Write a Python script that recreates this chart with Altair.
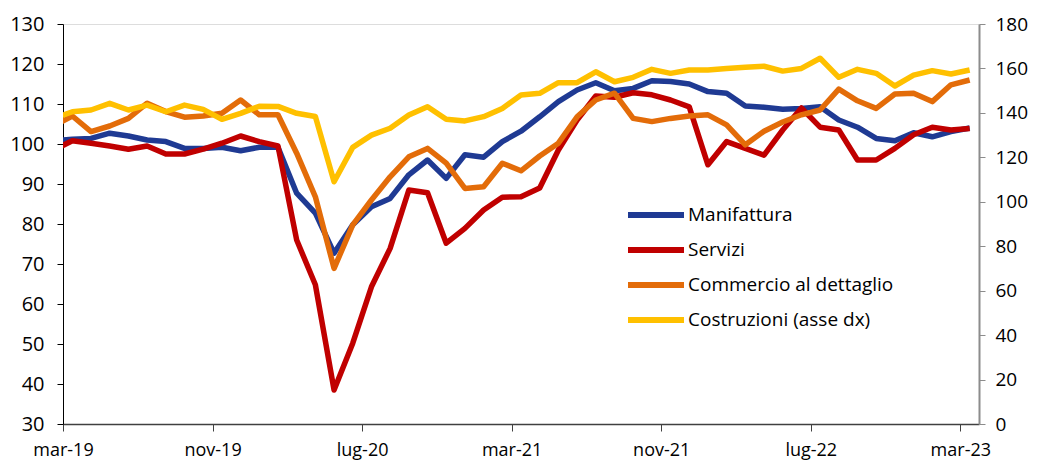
import json
import altair as alt
import numpy as np
import pandas as pd

# Mesi (il primo, feb-19, cade fuori dall'asse ed è tagliato come nell'originale)
mesi = ["feb-19", "mar-19", "apr-19", "mag-19", "giu-19", "lug-19", "ago-19", "set-19", "ott-19", "nov-19",
        "dic-19", "gen-20", "feb-20", "mar-20", "apr-20", "mag-20", "giu-20", "lug-20", "ago-20", "set-20",
        "ott-20", "nov-20", "dic-20", "gen-21", "feb-21", "mar-21", "apr-21", "mag-21", "giu-21", "lug-21",
        "ago-21", "set-21", "ott-21", "nov-21", "dic-21", "gen-22", "feb-22", "mar-22", "apr-22", "mag-22",
        "giu-22", "lug-22", "ago-22", "set-22", "ott-22", "nov-22", "dic-22", "gen-23", "feb-23", "mar-23"]

etichette_x = ["mar-19", "nov-19", "lug-20", "mar-21", "nov-21", "lug-22", "mar-23"]

manifattura = [100.8, 101.2, 101.4, 102.7, 102.0, 101.0, 100.6, 98.9, 98.9, 99.2,
               98.3, 99.2, 99.2, 87.7, 82.7, 72.7, 79.8, 84.3, 86.4, 92.3,
               96.0, 91.4, 97.3, 96.7, 100.6, 103.2, 106.8, 110.6, 113.5, 115.3,
               113.3, 113.9, 115.8, 115.6, 115.0, 113.1, 112.7, 109.5, 109.2, 108.7,
               108.9, 109.3, 106.0, 104.2, 101.4, 100.8, 102.8, 101.8, 103.1, 104.0]

servizi = [98.5, 100.8, 100.2, 99.5, 98.7, 99.5, 97.5, 97.5, 98.7, 100.2,
           102.0, 100.6, 99.5, 76.0, 64.8, 38.5, 50.2, 64.3, 73.9, 88.5,
           87.8, 75.2, 78.9, 83.5, 86.7, 86.8, 89.0, 98.5, 106.0, 112.0,
           111.7, 112.8, 112.3, 111.0, 109.3, 94.8, 100.6, 98.9, 97.2, 103.5,
           109.0, 104.2, 103.5, 96.0, 96.0, 98.9, 102.3, 104.2, 103.5, 103.9]

commercio = [104.5, 107.0, 103.1, 104.5, 106.4, 110.2, 108.1, 106.7, 107.0, 107.7,
             111.0, 107.3, 107.3, 97.7, 86.8, 68.9, 79.8, 86.0, 91.8, 96.8,
             98.9, 95.2, 88.9, 89.3, 95.2, 93.3, 97.0, 100.2, 106.8, 111.0,
             112.7, 106.4, 105.6, 106.4, 107.0, 107.3, 104.8, 99.8, 103.2, 105.5,
             107.3, 108.5, 113.7, 110.8, 108.9, 112.5, 112.7, 110.6, 114.8, 116.0]

costruzioni = [137.5, 140.5, 141.3, 144.3, 141.3, 143.5, 140.5, 143.5, 141.6, 137.1,
               139.8, 143.0, 142.9, 139.8, 138.4, 109.0, 124.5, 130.0, 133.1, 139.0,
               142.8, 137.1, 136.4, 138.3, 142.0, 148.0, 148.8, 153.6, 153.6, 158.5,
               154.0, 156.0, 159.6, 157.8, 159.3, 159.3, 160.0, 160.5, 161.0, 158.8,
               160.0, 164.6, 156.0, 159.6, 157.8, 152.1, 157.0, 159.0, 157.5, 159.3]

serie = ["Manifattura", "Servizi", "Commercio al dettaglio", "Costruzioni (asse dx)"]
colori = ["#1F3A93", "#C00000", "#E36C09", "#FFC000"]

# posizione: centro del mese, con mar-19 che inizia a 0
pos = np.arange(len(mesi)) - 1 + 0.5

rows = []
for nome, vals in zip(serie[:3], [manifattura, servizi, commercio]):
    for m, p, v in zip(mesi, pos, vals):
        rows.append({"mese": m, "pos": p, "serie": nome, "valore": v})
df_sx = pd.DataFrame(rows)
df_dx = pd.DataFrame({"mese": mesi, "pos": pos, "serie": serie[3], "valore": costruzioni})

FONT = "Open Sans"

x_enc = alt.X(
    "pos:Q",
    scale=alt.Scale(domain=[0, 49], nice=False, zero=False),
    axis=alt.Axis(
        values=list(range(0, 49, 8)),
        labelExpr=f"{json.dumps(etichette_x)}[round(datum.value / 8)]",
        title=None, grid=False, tickSize=7, tickColor="#404040", domainColor="#404040",
        domainWidth=1.5, labelFontSize=18, labelFont=FONT, labelColor="#000000",
        labelPadding=10, labelFlush=False, labelOverlap=False,
    ),
)

colore = alt.Color(
    "serie:N",
    scale=alt.Scale(domain=serie, range=colori),
    legend=alt.Legend(
        title=None, orient="none", legendX=604, legendY=181,
        symbolType="M-7,0H1", symbolSize=196, symbolStrokeWidth=6,
        labelFontSize=19, labelFont=FONT, labelColor="#000000", labelOffset=1,
        rowPadding=11, padding=0, labelLimit=400,
    ),
)

sinistra = alt.Chart(df_sx).mark_line(strokeWidth=5.5, clip=True, strokeJoin="round").encode(
    x=x_enc,
    y=alt.Y(
        "valore:Q",
        scale=alt.Scale(domain=[30, 130], nice=False, zero=False),
        axis=alt.Axis(
            values=list(range(30, 131, 10)), title=None, grid=False, orient="left",
            tickSize=6, tickColor="#000000", domainColor="#000000", labelFontSize=20,
            labelFont=FONT, labelColor="#000000", labelPadding=13,
        ),
    ),
    color=colore,
    detail="serie:N",
)

destra = alt.Chart(df_dx).mark_line(strokeWidth=5.5, clip=True, strokeJoin="round").encode(
    x=x_enc,
    y=alt.Y(
        "valore:Q",
        scale=alt.Scale(domain=[0, 180], nice=False, zero=False),
        axis=alt.Axis(
            values=list(range(0, 181, 20)), title=None, grid=False, orient="right",
            tickSize=6, tickColor="#8C8C8C", domainColor="#8C8C8C", domainWidth=2,
            labelFontSize=19, labelFont=FONT, labelColor="#000000", labelPadding=10,
        ),
    ),
    color=colore,
)

chart = (
    alt.layer(sinistra, destra)
    .resolve_scale(y="independent")
    .properties(
        width=916, height=400,
        autosize=alt.AutoSizeParams(type="none"),
        padding={"left": 55, "top": 16, "right": 50, "bottom": 36},
    )
    .configure_view(stroke=None)
    .configure(background="white")
)

chart.save("out.html", embed_options={"renderer": "svg", "actions": False})
